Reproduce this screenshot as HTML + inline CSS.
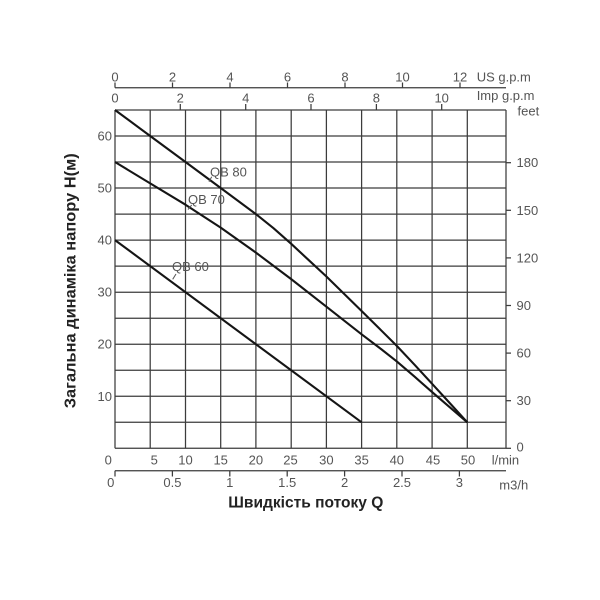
<!DOCTYPE html>
<html><head><meta charset="utf-8"><style>
html,body{margin:0;padding:0;background:#fff;}
svg{display:block;}
text{font-family:"Liberation Sans","DejaVu Sans",sans-serif;fill:#555;font-size:13px;}
.b{font-weight:bold;fill:#222;font-size:16px;}
</style></head><body>
<svg width="600" height="600" viewBox="0 0 600 600" xmlns="http://www.w3.org/2000/svg">
<rect width="600" height="600" fill="#fff"/>
<g stroke="#3c3c3c" stroke-width="1.25" fill="none">
<line x1="115" y1="110" x2="115" y2="448.3"/>
<line x1="150.2" y1="110" x2="150.2" y2="448.3"/>
<line x1="185.5" y1="110" x2="185.5" y2="448.3"/>
<line x1="220.7" y1="110" x2="220.7" y2="448.3"/>
<line x1="255.9" y1="110" x2="255.9" y2="448.3"/>
<line x1="291.2" y1="110" x2="291.2" y2="448.3"/>
<line x1="326.4" y1="110" x2="326.4" y2="448.3"/>
<line x1="361.6" y1="110" x2="361.6" y2="448.3"/>
<line x1="396.8" y1="110" x2="396.8" y2="448.3"/>
<line x1="432.1" y1="110" x2="432.1" y2="448.3"/>
<line x1="467.3" y1="110" x2="467.3" y2="448.3"/>
<line x1="506" y1="110" x2="506" y2="448.3"/>
<line x1="115" y1="110" x2="506" y2="110"/>
<line x1="115" y1="136" x2="506" y2="136"/>
<line x1="115" y1="162" x2="506" y2="162"/>
<line x1="115" y1="188" x2="506" y2="188"/>
<line x1="115" y1="214.1" x2="506" y2="214.1"/>
<line x1="115" y1="240.1" x2="506" y2="240.1"/>
<line x1="115" y1="266.1" x2="506" y2="266.1"/>
<line x1="115" y1="292.2" x2="506" y2="292.2"/>
<line x1="115" y1="318.2" x2="506" y2="318.2"/>
<line x1="115" y1="344.2" x2="506" y2="344.2"/>
<line x1="115" y1="370.2" x2="506" y2="370.2"/>
<line x1="115" y1="396.3" x2="506" y2="396.3"/>
<line x1="115" y1="422.3" x2="506" y2="422.3"/>
<line x1="115" y1="448.3" x2="506" y2="448.3"/>
<line x1="115" y1="87.7" x2="506" y2="87.7"/>
<line x1="115" y1="87.7" x2="115" y2="82.5"/>
<line x1="172.5" y1="87.7" x2="172.5" y2="82.5"/>
<line x1="230" y1="87.7" x2="230" y2="82.5"/>
<line x1="287.5" y1="87.7" x2="287.5" y2="82.5"/>
<line x1="345" y1="87.7" x2="345" y2="82.5"/>
<line x1="402.5" y1="87.7" x2="402.5" y2="82.5"/>
<line x1="460" y1="87.7" x2="460" y2="82.5"/>
<line x1="180.3" y1="110" x2="180.3" y2="104"/>
<line x1="245.7" y1="110" x2="245.7" y2="104"/>
<line x1="311" y1="110" x2="311" y2="104"/>
<line x1="376.4" y1="110" x2="376.4" y2="104"/>
<line x1="441.7" y1="110" x2="441.7" y2="104"/>
<line x1="506" y1="448.3" x2="511" y2="448.3"/>
<line x1="506" y1="400.7" x2="511" y2="400.7"/>
<line x1="506" y1="353.1" x2="511" y2="353.1"/>
<line x1="506" y1="305.5" x2="511" y2="305.5"/>
<line x1="506" y1="257.9" x2="511" y2="257.9"/>
<line x1="506" y1="210.3" x2="511" y2="210.3"/>
<line x1="506" y1="162.7" x2="511" y2="162.7"/>
<line x1="115" y1="470.7" x2="506" y2="470.7"/>
<line x1="115" y1="470.7" x2="115" y2="476.5"/>
<line x1="172.4" y1="470.7" x2="172.4" y2="476.5"/>
<line x1="229.8" y1="470.7" x2="229.8" y2="476.5"/>
<line x1="287.2" y1="470.7" x2="287.2" y2="476.5"/>
<line x1="344.6" y1="470.7" x2="344.6" y2="476.5"/>
<line x1="402" y1="470.7" x2="402" y2="476.5"/>
<line x1="459.4" y1="470.7" x2="459.4" y2="476.5"/>
</g>
<g stroke="#151515" stroke-width="2.1" fill="none" stroke-linejoin="round">
<polyline points="115,110 150.2,136 185.5,162 220.7,188 255.9,214.1 273.5,228.2 291.2,243.8 308.8,260.2 326.4,276.5 344,293.7 361.6,311 379.2,328.4 396.8,345.9 414.5,364.7 432.1,383.8 449.7,403 467.3,422.3"/>
<polyline points="115,162 150.2,183.4 185.5,204.7 220.7,227.6 255.9,252.6 291.2,279.1 326.4,306.7 361.6,334.3 379.2,347.6 396.8,361.4 414.5,376.6 432.1,392.1 449.7,407.2 467.3,422.3"/>
<polyline points="115,240.1 361.6,422.3"/>
</g>
<g stroke="#555" stroke-width="1" fill="none">
<line x1="211.7" y1="176.7" x2="209" y2="181.7"/>
<line x1="191.7" y1="205" x2="188" y2="209.5"/>
<line x1="176" y1="274" x2="172.7" y2="279.3"/>
</g>
<text x="210" y="176.5">QB 80</text>
<text x="188" y="204">QB 70</text>
<text x="172" y="271">QB 60</text>
<g text-anchor="end">
<text x="112" y="401">10</text>
<text x="112" y="348.7">20</text>
<text x="112" y="296.7">30</text>
<text x="112" y="244.6">40</text>
<text x="112" y="192.5">50</text>
<text x="112" y="140.5">60</text>
</g>
<text x="516.5" y="451.5">0</text>
<text x="516.5" y="405.2">30</text>
<text x="516.5" y="357.6">60</text>
<text x="516.5" y="310">90</text>
<text x="516.5" y="262.4">120</text>
<text x="516.5" y="214.8">150</text>
<text x="516.5" y="167.2">180</text>
<text x="517.5" y="115.5">feet</text>
<g text-anchor="middle">
<text x="115" y="81.5">0</text>
<text x="172.5" y="81.5">2</text>
<text x="230" y="81.5">4</text>
<text x="287.5" y="81.5">6</text>
<text x="345" y="81.5">8</text>
<text x="402.5" y="81.5">10</text>
<text x="460" y="81.5">12</text>
<text x="115" y="102.5">0</text>
<text x="180.3" y="102.5">2</text>
<text x="245.7" y="102.5">4</text>
<text x="311" y="102.5">6</text>
<text x="376.4" y="102.5">8</text>
<text x="441.7" y="102.5">10</text>
</g>
<text x="476.7" y="81.5">US g.p.m</text>
<text x="476.7" y="100">Imp g.p.m</text>
<g text-anchor="middle">
<text x="108.3" y="464.5">0</text>
<text x="154.3" y="464.5">5</text>
<text x="185.5" y="464.5">10</text>
<text x="220.7" y="464.5">15</text>
<text x="255.9" y="464.5">20</text>
<text x="290.5" y="464.5">25</text>
<text x="326.4" y="464.5">30</text>
<text x="361.6" y="464.5">35</text>
<text x="396.8" y="464.5">40</text>
<text x="433" y="464.5">45</text>
<text x="468" y="464.5">50</text>
<text x="110.7" y="487">0</text>
<text x="172.4" y="487">0.5</text>
<text x="229.8" y="487">1</text>
<text x="287.2" y="487">1.5</text>
<text x="344.6" y="487">2</text>
<text x="402" y="487">2.5</text>
<text x="459.4" y="487">3</text>
</g>
<text x="491.7" y="464.5">l/min</text>
<text x="499.3" y="489.5">m3/h</text>
<text class="b" x="228.3" y="507.5" textLength="155" lengthAdjust="spacingAndGlyphs">Швидкість потоку Q</text>
<text class="b" transform="translate(75.5,408.3) rotate(-90)" x="0" y="0" textLength="255" lengthAdjust="spacingAndGlyphs">Загальна динаміка напору H(м)</text>
</svg>
</body></html>
